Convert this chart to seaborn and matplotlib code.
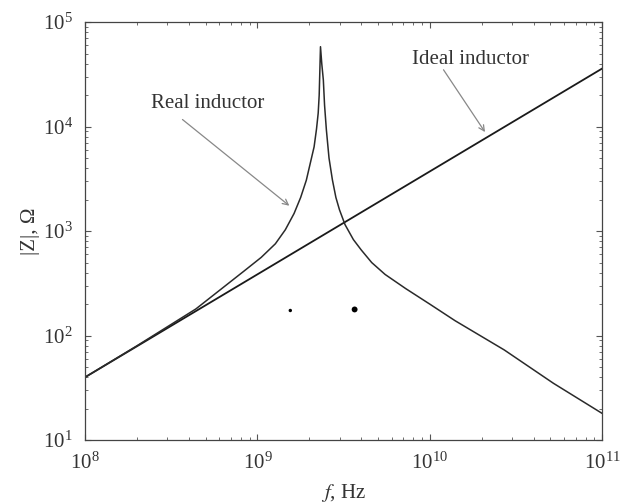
import matplotlib
matplotlib.use("Agg")
import matplotlib.pyplot as plt
import matplotlib.ticker as mticker
import seaborn as sns
import pandas as pd

# ---- data ----
ideal_f = [1e8, 1e11]
ideal_z = [40, 36000]

real_f = [1e8, 2e8, 4.39e8, 8.31e8, 1.05e9, 1.27e9, 1.45e9, 1.63e9, 1.78e9,
          1.92e9, 2.02e9, 2.13e9, 2.2e9, 2.25e9, 2.28e9, 2.32e9, 2.36e9,
          2.41e9, 2.45e9, 2.51e9, 2.6e9, 2.72e9, 2.85e9, 2.99e9, 3.22e9,
          3.6e9, 4.0e9, 4.6e9, 5.5e9, 7.24e9, 1.0e10, 1.40e10, 2.70e10,
          5.21e10, 1e11]
real_z = [40, 80, 180, 412, 560, 757, 1030, 1475, 2100,
          3070, 4400, 6400, 9500, 13480, 20000, 58200, 40000,
          27950, 16000, 9300, 5000, 3096, 2100, 1600, 1154,
          830, 660, 500, 385, 282, 200, 139, 73,
          35, 18]

dot_f = [1.55e9, 3.66e9]
dot_z = [174, 178]
dot_s = [6, 18]

xlim = (1e8, 1e11)
ylim = (1e1, 1e5)
x_label = "$f$, Hz"
y_label = "|Z|, Ω"

sns.set_style("ticks")
plt.rcParams["font.family"] = ["Liberation Serif", "DejaVu Serif"]
plt.rcParams["mathtext.fontset"] = "stix"

fig = plt.figure(figsize=(6.26, 5.03), dpi=100)
ax = fig.add_axes([0.136, 0.125, 0.826, 0.831])

ideal_df = pd.DataFrame({"f": ideal_f, "z": ideal_z})
real_df = pd.DataFrame({"f": real_f, "z": real_z})
sns.lineplot(data=ideal_df, x="f", y="z", ax=ax, color="#1a1a1a", lw=1.3,
             estimator=None)
sns.lineplot(data=real_df, x="f", y="z", ax=ax, color="#2a2a2a", lw=1.1,
             estimator=None)
sns.scatterplot(x=dot_f, y=dot_z, size=dot_s, sizes=(6, 18), color="black",
                ax=ax, legend=False, edgecolor="none")

ax.set_xscale("log")
ax.set_yscale("log")
ax.set_xlim(*xlim)
ax.set_ylim(*ylim)
ax.xaxis.set_major_locator(mticker.LogLocator(base=10, numticks=10))
ax.yaxis.set_major_locator(mticker.LogLocator(base=10, numticks=10))
ax.xaxis.set_minor_locator(mticker.LogLocator(base=10, subs=range(2, 10), numticks=20))
ax.yaxis.set_minor_locator(mticker.LogLocator(base=10, subs=range(2, 10), numticks=20))
ax.tick_params(which="both", direction="in", top=True, right=True,
               color="#555555", labelsize=15, labelcolor="#333333")
ax.tick_params(which="major", length=4, width=0.8, pad=9)
ax.tick_params(which="minor", length=2, width=0.6)
for s in ax.spines.values():
    s.set_color("#444444")
    s.set_linewidth(0.9)

ax.set_xlabel(x_label, fontsize=15, color="#333333", labelpad=6)
ax.set_ylabel(y_label, fontsize=15, color="#333333", labelpad=2)

ax.text(5.11e8, 16500, "Real inductor", ha="center", va="center",
        fontsize=15, color="#333333")
ax.annotate("", xy=(1.53e9, 1750), xytext=(3.67e8, 11700),
            arrowprops=dict(arrowstyle="->", color="#888888", lw=0.9,
                            shrinkA=0, shrinkB=0))
ax.text(1.71e10, 44000, "Ideal inductor", ha="center", va="center",
        fontsize=15, color="#333333")
ax.annotate("", xy=(2.09e10, 8870), xytext=(1.2e10, 35000),
            arrowprops=dict(arrowstyle="->", color="#888888", lw=0.9,
                            shrinkA=0, shrinkB=0))

fig.savefig("out.png", dpi=100, facecolor="white")
